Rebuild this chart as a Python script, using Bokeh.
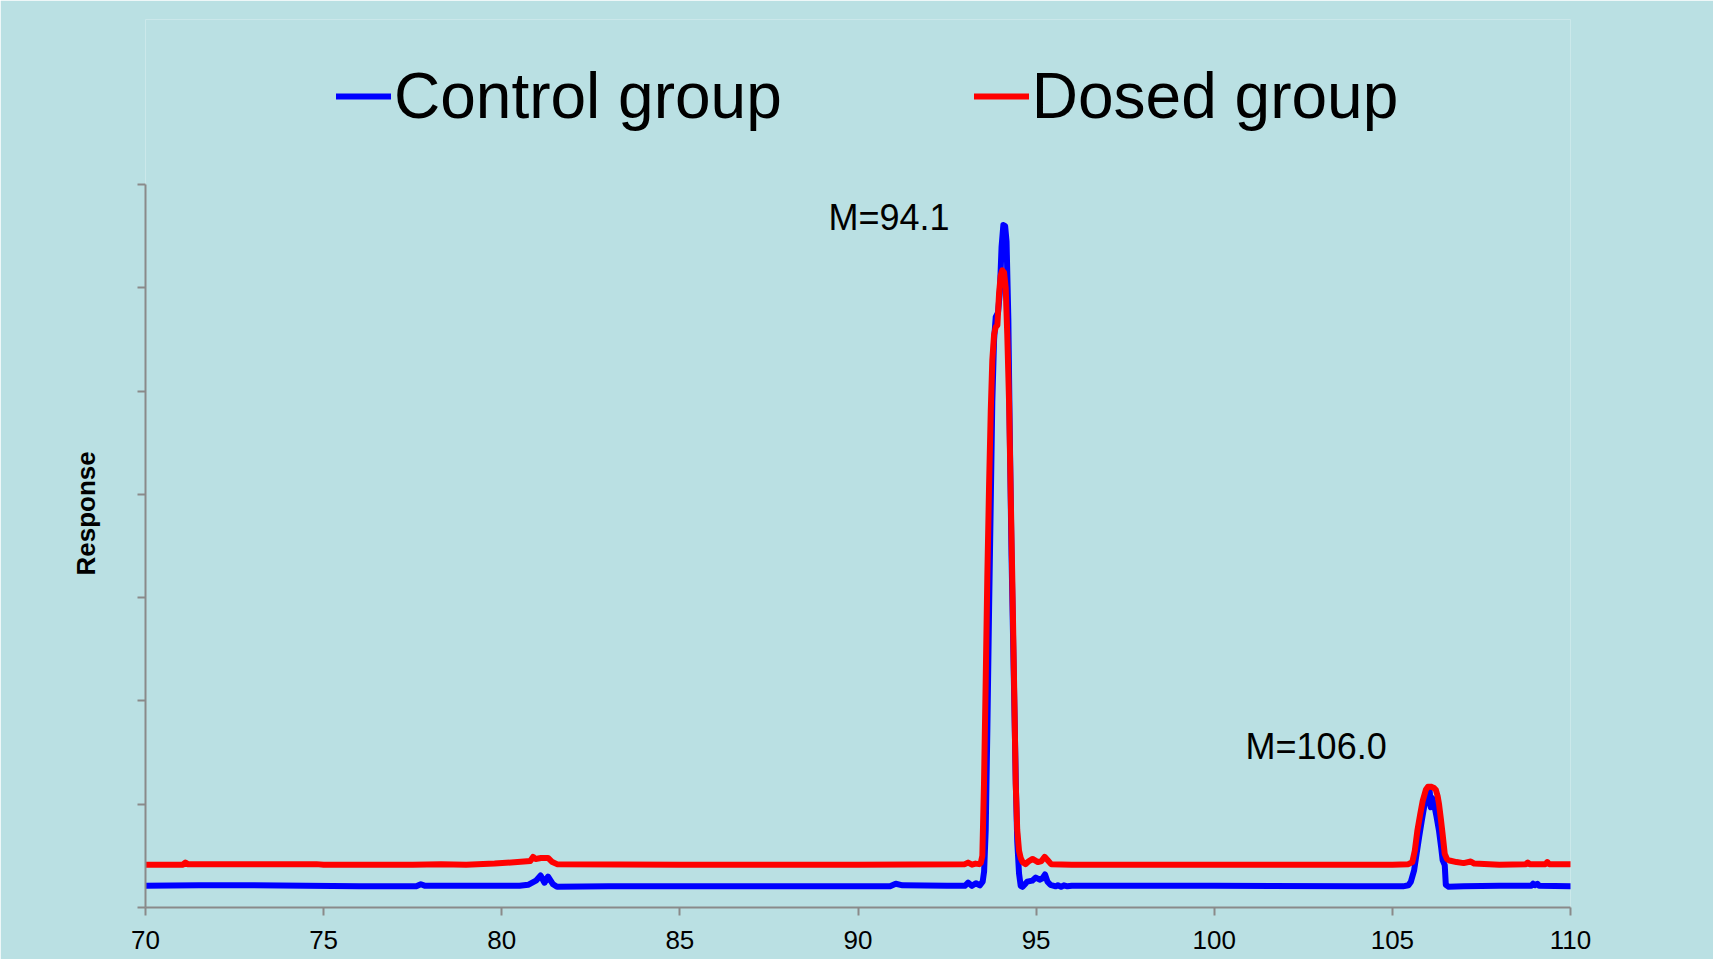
from bokeh.plotting import figure
from bokeh.models import Range1d, FixedTicker, Legend, LegendItem, Label, Title
from bokeh.embed import file_html
from bokeh.resources import INLINE

# ---------------- data ----------------
series_names = ["Control group", "Dosed group"]

x_ticks = [70, 75, 80, 85, 90, 95, 100, 105, 110]
x_tick_labels = ["70", "75", "80", "85", "90", "95", "100", "105", "110"]
y_ticks = [0, 1, 2, 3, 4, 5, 6, 7]

control_x = [70.0, 71.5, 73.0, 74.5, 76.0, 77.6, 77.73, 77.85, 79.0, 80.5,
             80.74, 80.96, 81.09, 81.2, 81.3, 81.44, 81.55, 83.0, 87.0, 90.9,
             91.06, 91.25, 92.5, 93.0, 93.09, 93.2, 93.31, 93.42, 93.5, 93.54,
             93.585, 93.63, 93.68, 93.73, 93.77, 93.82, 93.866, 93.93, 93.98, 94.03,
             94.08, 94.13, 94.17, 94.22, 94.26, 94.31, 94.37, 94.43, 94.47, 94.52,
             94.567, 94.62, 94.75, 94.89, 94.99, 95.1, 95.17, 95.25, 95.32, 95.4,
             95.55, 95.61, 95.7, 95.78, 95.88, 96.0, 96.2, 100.0, 104.0, 105.3,
             105.45, 105.52, 105.61, 105.68, 105.75, 105.82, 105.89, 105.98, 106.05, 106.08,
             106.12, 106.17, 106.24, 106.31, 106.37, 106.41, 106.47, 106.5, 106.58, 107.0,
             108.0, 108.9, 108.95, 109.0, 109.07, 109.12, 110.0]
control_y = [0.21, 0.215, 0.215, 0.21, 0.205, 0.205, 0.225, 0.21, 0.21, 0.21,
             0.22, 0.26, 0.31, 0.24, 0.30, 0.225, 0.20, 0.205, 0.205, 0.205,
             0.23, 0.215, 0.21, 0.21, 0.24, 0.21, 0.235, 0.215, 0.25, 0.35,
             0.75, 1.7, 2.9, 4.0, 4.9, 5.5, 5.72, 5.76, 5.95, 6.4,
             6.61, 6.6, 6.45, 5.7, 4.6, 3.4, 2.3, 1.2, 0.64, 0.33,
             0.21, 0.20, 0.25, 0.26, 0.29, 0.27, 0.28, 0.32, 0.25, 0.22,
             0.205, 0.215, 0.20, 0.215, 0.205, 0.21, 0.21, 0.21, 0.205, 0.205,
             0.215, 0.25, 0.36, 0.52, 0.68, 0.83, 0.97, 1.08, 1.12, 0.97,
             1.06, 1.0, 0.88, 0.74, 0.58, 0.46, 0.41, 0.22, 0.20, 0.205,
             0.21, 0.21, 0.23, 0.215, 0.23, 0.21, 0.205]

dosed_x = [70.0, 71.05, 71.12, 71.2, 72.5, 74.8, 75.0, 77.5, 78.3, 79.0,
           79.8, 80.8, 80.88, 80.95, 81.1, 81.3, 81.42, 81.55, 85.0, 90.0,
           93.0, 93.09, 93.2, 93.3, 93.4, 93.445, 93.49, 93.537, 93.585, 93.63,
           93.68, 93.726, 93.77, 93.82, 93.866, 93.913, 93.96, 94.006, 94.05, 94.1,
           94.146, 94.19, 94.24, 94.287, 94.33, 94.38, 94.427, 94.47, 94.52, 94.567,
           94.62, 94.7, 94.8, 94.9, 95.05, 95.15, 95.24, 95.32, 95.42, 96.0,
           100.0, 105.0, 105.45, 105.56, 105.63, 105.7, 105.78, 105.85, 105.94, 106.0,
           106.08, 106.16, 106.22, 106.27, 106.31, 106.36, 106.41, 106.47, 106.53, 106.6,
           106.8, 107.0, 107.2, 107.3, 108.0, 108.75, 108.8, 108.85, 109.3, 109.35,
           109.4, 110.0]
dosed_y = [0.415, 0.415, 0.435, 0.418, 0.42, 0.42, 0.415, 0.415, 0.42, 0.415,
           0.425, 0.45, 0.49, 0.47, 0.48, 0.48, 0.44, 0.42, 0.415, 0.415,
           0.42, 0.435, 0.415, 0.425, 0.42, 0.43, 0.5, 1.2, 2.2, 3.2,
           4.1, 4.8, 5.3, 5.55, 5.62, 5.64, 5.95, 6.12, 6.17, 6.15,
           6.0, 5.55, 4.9, 4.0, 3.2, 2.2, 1.2, 0.75, 0.55, 0.48,
           0.44, 0.42, 0.45, 0.47, 0.44, 0.45, 0.49, 0.46, 0.42, 0.415,
           0.415, 0.415, 0.42, 0.44, 0.55, 0.74, 0.9, 1.03, 1.14, 1.17,
           1.17, 1.16, 1.14, 1.08, 1.0, 0.86, 0.71, 0.52, 0.47, 0.455,
           0.44, 0.43, 0.445, 0.425, 0.415, 0.42, 0.435, 0.42, 0.42, 0.44,
           0.42, 0.42]

annotations = [("M=94.1", 90.87, 6.68), ("M=106.0", 102.86, 1.56)]
y_axis_title = "Response"

# ---------------- styling ----------------
BG = "#BAE0E3"
AXIS = "#8A8A8A"
FONT = "Liberation Sans"

# frame extends above the axis top (y=7) so the legend can sit inside it
p = figure(width=1713, height=959, output_backend="svg", toolbar_location=None,
           x_range=Range1d(70, 110), y_range=Range1d(0, 8.6),
           min_border_left=145, min_border_right=143,
           min_border_top=19, min_border_bottom=52)
p.background_fill_color = BG
p.border_fill_color = BG
p.outline_line_color = None
p.grid.visible = False

r_ctrl = p.line(control_x, control_y, line_color="#0000FF", line_width=6,
                line_join="round", line_cap="round")
r_dose = p.line(dosed_x, dosed_y, line_color="#FF0000", line_width=6,
                line_join="round", line_cap="round")

for ax in (p.xaxis[0], p.yaxis[0]):
    ax.axis_line_color = AXIS
    ax.axis_line_width = 2
    ax.major_tick_line_color = AXIS
    ax.major_tick_line_width = 2
    ax.major_tick_in = 0
    ax.major_tick_out = 8
    ax.minor_tick_line_color = None

p.xaxis.ticker = FixedTicker(ticks=x_ticks)
p.xaxis.major_label_overrides = {t: s for t, s in zip(x_ticks, x_tick_labels)}
p.xaxis.major_label_text_font = FONT
p.xaxis.major_label_text_font_size = "26px"
p.xaxis.major_label_text_color = "#000000"
p.xaxis.major_label_standoff = 15

p.yaxis.ticker = FixedTicker(ticks=y_ticks)
p.yaxis.bounds = (0, 7)
p.yaxis.major_label_text_color = None

p.add_layout(Title(text=y_axis_title, align="left", offset=332,
                   text_font=FONT, text_font_size="26px", text_font_style="bold",
                   text_color="#000000", standoff=73), "left")

for txt, ax_, ay_ in annotations:
    p.add_layout(Label(x=ax_, y=ay_, text=txt, text_align="center",
                       text_baseline="alphabetic", text_font=FONT,
                       text_font_size="36px", text_color="#000000"))

legend = Legend(items=[LegendItem(label=series_names[0], renderers=[r_ctrl]),
                       LegendItem(label=series_names[1], renderers=[r_dose])],
                orientation="horizontal", location=(191, 774),
                glyph_width=55, glyph_height=20, label_standoff=3, spacing=192,
                padding=0, margin=0, border_line_color=None,
                background_fill_alpha=0,
                label_text_font=FONT, label_text_font_size="64px",
                label_text_color="#000000")
p.add_layout(legend, "center")

open("out.html", "w").write(file_html(p, INLINE))
